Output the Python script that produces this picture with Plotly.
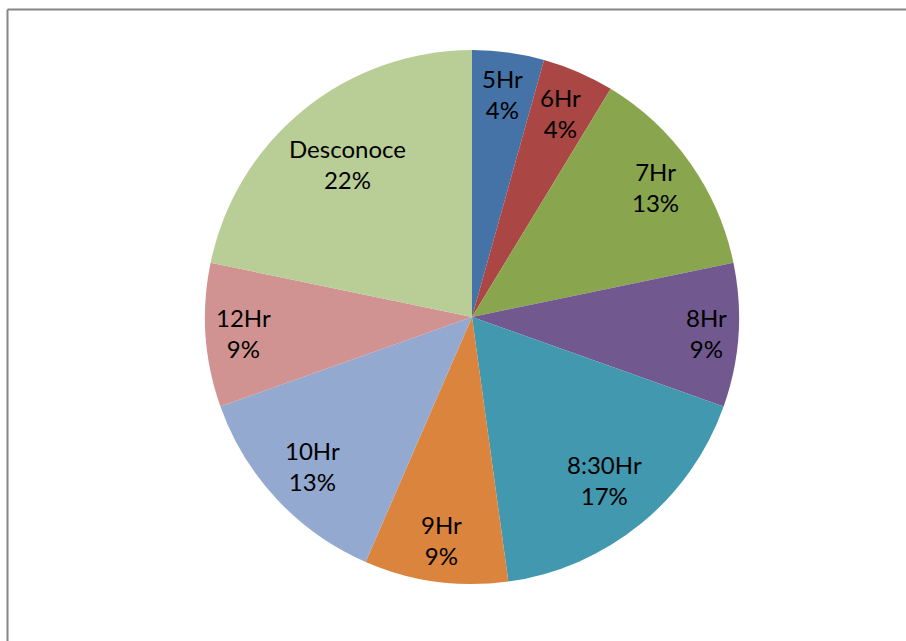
import math
import plotly.graph_objects as go

labels = ["5Hr", "6Hr", "7Hr", "8Hr", "8:30Hr", "9Hr", "10Hr", "12Hr", "Desconoce"]
values = [1, 1, 3, 2, 4, 2, 3, 2, 5]
colors = ["#4572A7", "#AA4643", "#89A54E", "#71588F", "#4198AF",
          "#DB843D", "#93A9CF", "#D19392", "#B9CD96"]

W, H = 906, 641
cx, cy, r = 472, 317, 267
FONT = dict(family="Lato", size=24, color="black")

fig = go.Figure(go.Pie(
    labels=labels, values=values, sort=False, direction="clockwise", rotation=0,
    marker=dict(colors=colors, line=dict(width=0)),
    textinfo="none",
    domain=dict(x=[(cx - r) / W, (cx + r) / W], y=[(H - cy - r) / H, (H - cy + r) / H]),
    showlegend=False, hoverinfo="label+percent",
))

# Excel-like "best fit" inside labels: place the label box at the slice's mid-angle,
# pushed outward until its outer corner reaches a circle slightly inside the pie edge.
total = sum(values)
annotations = []
cum = 0
rc = r - 9
for lab, v in zip(labels, values):
    mid = (cum + v / 2) / total * 2 * math.pi
    cum += v
    pct = f"{round(v / total * 100)}%"
    hw = max(len(lab), len(pct)) * 6.4
    hh = 30
    s, c = math.sin(mid), math.cos(mid)
    B = abs(s) * hw + abs(c) * hh
    C = hw * hw + hh * hh - rc * rc
    d = -B + math.sqrt(B * B - C)
    px = cx + d * s
    py = cy - d * c
    annotations.append(dict(
        x=px / W, y=1 - py / H, xref="paper", yref="paper",
        text=f"{lab}<br>{pct}", showarrow=False, font=FONT,
        xanchor="center", yanchor="middle", align="center",
    ))

fig.update_layout(
    width=W, height=H, margin=dict(l=0, r=0, t=0, b=0),
    paper_bgcolor="white",
    annotations=annotations,
    shapes=[
        dict(type="line", xref="paper", yref="paper", x0=7.5 / W, x1=1.0, y0=1 - 9.5 / H, y1=1 - 9.5 / H,
             line=dict(color="#868686", width=2)),
        dict(type="line", xref="paper", yref="paper", x0=7.5 / W, x1=7.5 / W, y0=1 - 9.5 / H, y1=0,
             line=dict(color="#868686", width=2)),
    ],
)

fig.write_html("out.html", config={"displayModeBar": False},
               post_script="document.body.style.margin='0px';")
